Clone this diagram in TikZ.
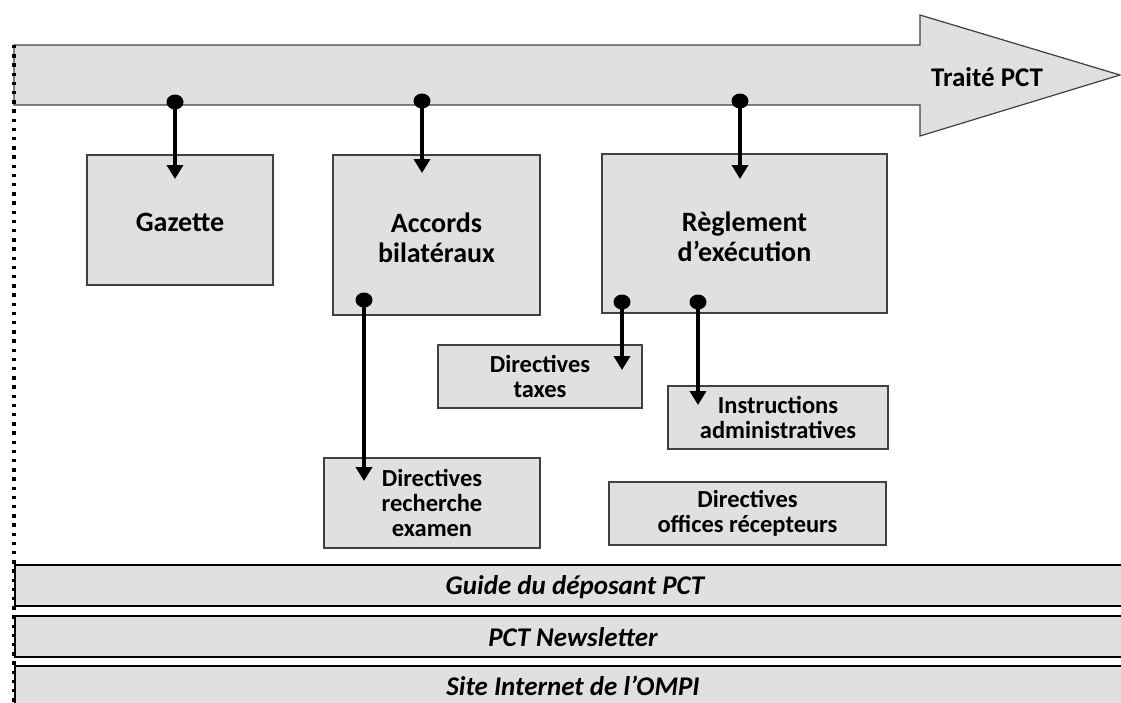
\documentclass[tikz,border=0pt]{standalone}
\usepackage{fontspec}
\setmainfont{Carlito}
\usetikzlibrary{arrows.meta}
\definecolor{boxfill}{HTML}{E0E0E0}
\definecolor{boxline}{HTML}{404040}
\tikzset{
  box/.style={draw=boxline, line width=1.2pt, fill=boxfill, align=center, inner sep=0pt},
  bigtxt/.style={font=\fontsize{28}{30}\selectfont\bfseries},
  smalltxt/.style={font=\fontsize{24.5}{25}\selectfont\bfseries},
  bartxt/.style={font=\fontsize{27}{30}\selectfont\bfseries\itshape},
  bar/.style={draw=black, line width=1.4pt, fill=boxfill},
  link/.style={line width=4.5pt, -{Triangle[width=16pt,length=14pt]}},
  dot/.style={fill=black}
}
\begin{document}
\begin{tikzpicture}[x=1pt,y=-1pt]
\useasboundingbox (0,0) rectangle (1121,702);
% main arrow
\draw[draw=boxline, line width=1.2pt, fill=boxfill]
  (14,45) -- (920,45) -- (920,15) -- (1120,75) -- (920,136) -- (920,105) -- (14,105) -- cycle;
\node[font=\fontsize{27}{30}\selectfont\bfseries] (traite) at (987,77) {Traité PCT};
% bottom bars
\draw[bar] (15,565) rectangle (1135,606);
\draw[bar] (15,616) rectangle (1135,657);
\draw[bar] (15,666) rectangle (1135,720);
\node[bartxt] (guide) at (575,587) {Guide du déposant PCT};
\node[bartxt] (news) at (573,637) {PCT Newsletter};
\node[bartxt] (site) at (573,686) {Site Internet de l’OMPI};
% dotted left line
\draw[line width=3.3pt, dash pattern=on 3.3pt off 5.9pt] (14,45) -- (14,702);
% boxes
\node[box, minimum width=186pt, minimum height=130pt] (gazette) at (180,220) {};
\node[bigtxt] (gazettet) at (180,222) {Gazette};
\node[box, minimum width=207pt, minimum height=160pt] (accords) at (436.5,235) {};
\node[bigtxt, align=center] (accordst) at (436.5,238) {Accords\\bilatéraux};
\node[box, minimum width=285pt, minimum height=159pt] (reglement) at (744.5,233.5) {};
\node[bigtxt, align=center] (reglementt) at (744.5,237) {Règlement\\d’exécution};
\node[box, smalltxt, minimum width=204pt, minimum height=63pt] (taxes) at (540,376.5) {Directives\\taxes};
\node[box, smalltxt, minimum width=220pt, minimum height=63pt] (instr) at (778,417.5) {Instructions\\administratives};
\node[box, smalltxt, minimum width=216pt, minimum height=90pt] (rech) at (432,503) {Directives\\recherche\\examen};
\node[box, smalltxt, minimum width=277pt, minimum height=63pt] (offices) at (747.5,513.5) {Directives\\offices récepteurs};
% connector points
\coordinate (g0) at (175,102); \coordinate (g1) at (175,179);
\coordinate (a0) at (422,101); \coordinate (a1) at (422,173);
\coordinate (r0) at (740,101); \coordinate (r1) at (740,179);
\coordinate (b0) at (364,300); \coordinate (b1) at (364,481);
\coordinate (t0) at (622,302); \coordinate (t1) at (622,370);
\coordinate (i0) at (698,302); \coordinate (i1) at (698,405);
\foreach \s/\e in {g0/g1,a0/a1,r0/r1,b0/b1,t0/t1,i0/i1}{
  \draw[link] (\s) -- (\e);
  \fill[dot] (\s) ellipse [x radius=8.5pt, y radius=7.5pt];
}
\end{tikzpicture}
\end{document}
